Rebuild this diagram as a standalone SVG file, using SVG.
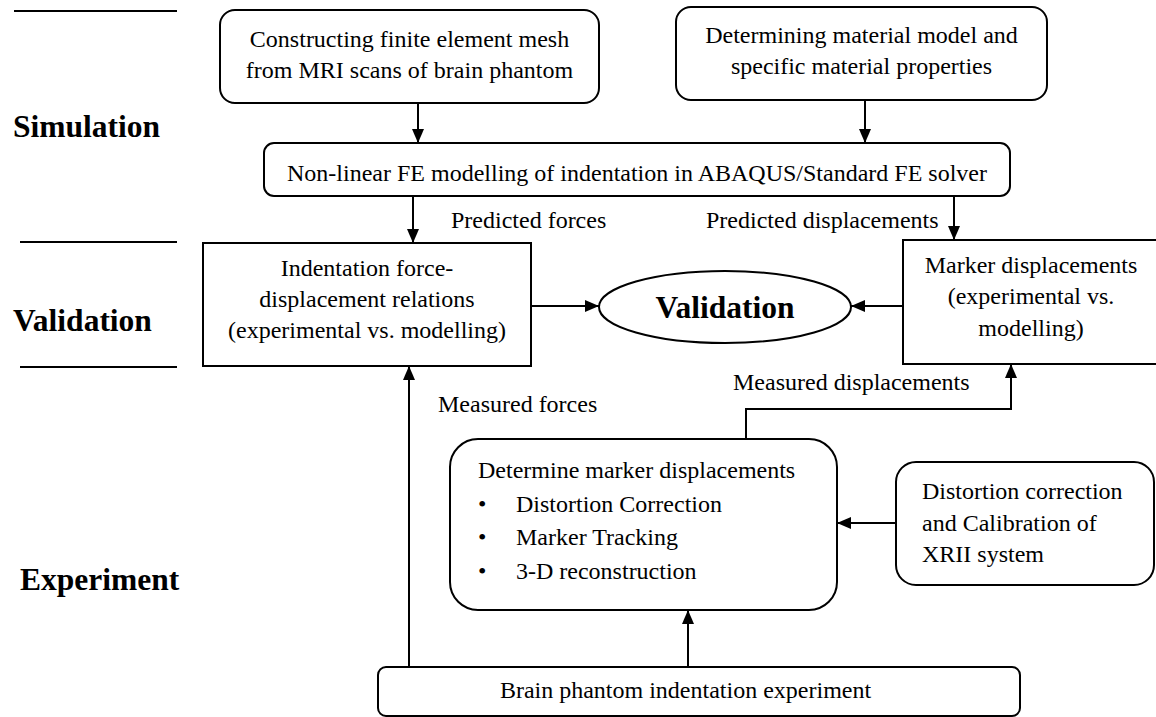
<svg xmlns="http://www.w3.org/2000/svg" width="1156" height="717" viewBox="0 0 1156 717" font-family="'Liberation Serif', 'Times New Roman', Times, serif">
<style>
text{font-family:'Liberation Serif', 'Times New Roman', Times, serif;fill:#000}
.t{font-size:24px}
.b{font-size:31.5px;font-weight:bold}
.m{text-anchor:middle}
.box{fill:#fff;stroke:#000;stroke-width:2}
.c{fill:none;stroke:#000;stroke-width:2}
.sep{stroke:#000;stroke-width:2}
</style>
<defs>
<marker id="ah" viewBox="0 0 14 12" refX="14" refY="6" markerWidth="14" markerHeight="12" markerUnits="userSpaceOnUse" orient="auto">
<path d="M0,0 L14,6 L0,12 z" fill="#000"/>
</marker>
</defs>
<rect width="1156" height="717" fill="#fff"/>
<g id="labels">
<line class="sep" x1="14" y1="11" x2="177" y2="11"/>
<line class="sep" x1="20" y1="242" x2="177" y2="242"/>
<line class="sep" x1="20" y1="367" x2="177" y2="367"/>
<text class="b" x="13" y="137" font-family="Liberation Serif">Simulation</text>
<text class="b" x="13" y="331" font-family="Liberation Serif">Validation</text>
<text class="b" x="20" y="590" font-family="Liberation Serif">Experiment</text>
</g>
<g id="connectors">
<path class="c" d="M418,103 V143" marker-end="url(#ah)"/>
<path class="c" d="M865,100 V143" marker-end="url(#ah)"/>
<path class="c" d="M413,196 V243" marker-end="url(#ah)"/>
<path class="c" d="M954,196 V240" marker-end="url(#ah)"/>
<path class="c" d="M531,306 H599" marker-end="url(#ah)"/>
<path class="c" d="M903,306 H851" marker-end="url(#ah)"/>
<path class="c" d="M409,667 V366" marker-end="url(#ah)"/>
<path class="c" d="M746,438 V409 H1011 V364" marker-end="url(#ah)"/>
<path class="c" d="M896,523 H837" marker-end="url(#ah)"/>
<path class="c" d="M688,667 V610" marker-end="url(#ah)"/>
<text class="t" x="451" y="228">Predicted forces</text>
<text class="t" x="706" y="228">Predicted displacements</text>
<text class="t" x="438" y="412">Measured forces</text>
<text class="t" x="733" y="390">Measured displacements</text>
</g>
<g id="mesh">
<rect class="box" x="220" y="10" width="379" height="93" rx="15"/>
<text class="t m" x="409.5" y="47">Constructing finite element mesh</text>
<text class="t m" x="409.5" y="78">from MRI scans of brain phantom</text>
</g>
<g id="material">
<rect class="box" x="676" y="7" width="371" height="93" rx="15"/>
<text class="t m" x="861.5" y="43">Determining material model and</text>
<text class="t m" x="861.5" y="74">specific material properties</text>
</g>
<g id="fe-model">
<rect class="box" x="264" y="143" width="746" height="53" rx="10"/>
<text class="t m" x="637" y="181">Non-linear FE modelling of indentation in ABAQUS/Standard FE solver</text>
</g>
<g id="force-disp">
<rect class="box" x="203" y="243" width="328" height="123"/>
<text class="t m" x="367" y="276">Indentation force-</text>
<text class="t m" x="367" y="307">displacement relations</text>
<text class="t m" x="367" y="338">(experimental vs. modelling)</text>
</g>
<g id="validation">
<ellipse class="box" cx="725" cy="307" rx="126" ry="36"/>
<text class="b m" x="725" y="318">Validation</text>
</g>
<g id="marker-disp">
<rect class="box" x="903" y="240" width="256" height="124"/>
<text class="t m" x="1031" y="273">Marker displacements</text>
<text class="t m" x="1031" y="304">(experimental vs.</text>
<text class="t m" x="1031" y="336">modelling)</text>
</g>
<g id="determine">
<rect class="box" x="450" y="439" width="387" height="171" rx="28"/>
<text class="t" x="478" y="478">Determine marker displacements</text>
<text class="t" x="478" y="512">•</text>
<text class="t" x="516" y="512">Distortion Correction</text>
<text class="t" x="478" y="545">•</text>
<text class="t" x="516" y="545">Marker Tracking</text>
<text class="t" x="478" y="579">•</text>
<text class="t" x="516" y="579">3-D reconstruction</text>
</g>
<g id="calibration">
<rect class="box" x="896" y="462" width="258" height="123" rx="20"/>
<text class="t" x="922" y="499">Distortion correction</text>
<text class="t" x="922" y="531">and Calibration of</text>
<text class="t" x="922" y="562">XRII system</text>
</g>
<g id="experiment">
<rect class="box" x="378" y="667" width="642" height="49" rx="8"/>
<text class="t m" x="685.5" y="698">Brain phantom indentation experiment</text>
</g>
</svg>
